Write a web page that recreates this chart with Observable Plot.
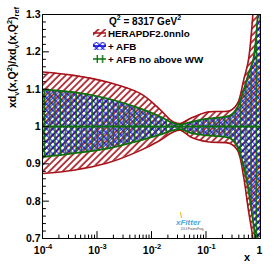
<!DOCTYPE html>
<html><head><meta charset="utf-8">
<script src="https://cdn.jsdelivr.net/npm/d3@7"></script>
<script src="https://cdn.jsdelivr.net/npm/@observablehq/plot@0.6"></script>
<style>html,body{margin:0;padding:0;background:#fff}svg{display:block}</style>
</head><body><div id="chart"></div>
<script>
// ---- data ----
const xValues   = [1e-4, 3.7e-4, 1.55e-3, 6.3e-3, 0.0129, 0.0251, 0.0339, 0.0525, 0.107, 0.282, 0.38, 0.49, 0.60, 0.74, 0.91, 1];
const heraUp    = [1.146, 1.137, 1.119, 1.088, 1.052, 1.012, 1.008, 1.022, 1.039, 1.043, 1.062, 1.124, 1.177, 1.32, 1.60, 1.80];
const heraLo    = [0.874, 0.883, 0.902, 0.936, 0.959, 0.985, 0.990, 0.972, 0.959, 0.954, 0.936, 0.865, 0.776, 0.69, 0.50, 0.40];
const afbUp     = [1.099, 1.092, 1.075, 1.048, 1.030, 1.009, 1.005, 1.012, 1.021, 1.030, 1.052, 1.097, 1.140, 1.18, 1.32, 1.50];
const afbLo     = [0.918, 0.928, 0.941, 0.963, 0.976, 0.990, 0.993, 0.983, 0.976, 0.968, 0.945, 0.892, 0.830, 0.74, 0.64, 0.55];
const afbNoWWUp = [1.099, 1.092, 1.075, 1.048, 1.030, 1.009, 1.005, 1.012, 1.021, 1.030, 1.052, 1.097, 1.140, 1.18, 1.32, 1.50];
const afbNoWWLo = [0.918, 0.928, 0.941, 0.963, 0.976, 0.990, 0.993, 0.983, 0.976, 0.968, 0.945, 0.892, 0.830, 0.74, 0.64, 0.55];
const centre    = [1.0];

const yMajor  = [0.7, 0.8, 0.9, 1.0, 1.1, 1.2, 1.3];
const yLabels = ["0.7", "0.8", "0.9", "1", "1.1", "1.2", "1.3"];
const yMinor  = [0.72,0.74,0.76,0.78,0.82,0.84,0.86,0.88,0.92,0.94,0.96,0.98,1.02,1.04,1.06,1.08,1.12,1.14,1.16,1.18,1.22,1.24,1.26,1.28];
const xMajor  = [1e-4, 1e-3, 1e-2, 1e-1, 1];
const xExps   = ["-4", "-3", "-2", "-1"];
const xMinor  = xMajor.slice(0, -1).flatMap(d => [2,3,4,5,6,7,8,9].map(k => k * d));

const legendNames = ["HERAPDF2.0nnlo", "+ AFB", "+ AFB no above WW"];

const RED = "#a8111a", BLUE = "#0000dd", GREEN = "#0b700b";
const rows = xValues.map((x, i) => ({x, hu: heraUp[i], hl: heraLo[i], au: afbUp[i], al: afbLo[i], gu: afbNoWWUp[i], gl: afbNoWWLo[i]}));
const curve = "catmull-rom";
const tickShape = {draw(ctx, l) { ctx.moveTo(0, 0); ctx.lineTo(0, -l); }};

const chart = Plot.plot({
  width: 274, height: 266,
  marginLeft: 42, marginRight: 14, marginTop: 14, marginBottom: 28,
  x: {type: "log", domain: [1e-4, 1], axis: null},
  y: {domain: [0.7, 1.3], axis: null},
  style: {fontFamily: "'Liberation Sans', Arial, Helvetica, sans-serif", fontWeight: "bold", background: "white", color: "black"},
  marks: [
    Plot.areaY(rows, {x: "x", y1: "hl", y2: "hu", fill: "url(#hatchRed)", curve, clip: true}),
    Plot.line(rows, {x: "x", y: "hu", stroke: RED, strokeWidth: 1.6, curve, clip: true}),
    Plot.line(rows, {x: "x", y: "hl", stroke: RED, strokeWidth: 1.6, curve, clip: true}),
    Plot.areaY(rows, {x: "x", y1: "al", y2: "au", fill: "url(#crossBlue)", curve, clip: true}),
    Plot.areaY(rows, {x: "x", y1: "gl", y2: "gu", fill: "url(#vertGreen)", curve, clip: true}),
    Plot.line(rows, {x: "x", y: "gu", stroke: GREEN, strokeWidth: 1.8, curve, clip: true}),
    Plot.line(rows, {x: "x", y: "gl", stroke: GREEN, strokeWidth: 1.8, curve, clip: true}),
    Plot.ruleY(centre, {stroke: GREEN, strokeWidth: 1.8}),
    Plot.frame({stroke: "black", strokeWidth: 1}),
    Plot.vectorY(yMajor, {frameAnchor: "left", length: 6, rotate: 90, anchor: "start", shape: tickShape, stroke: "black", strokeWidth: 1}),
    Plot.vectorY(yMinor, {frameAnchor: "left", length: 3, rotate: 90, anchor: "start", shape: tickShape, stroke: "black", strokeWidth: 1}),
    Plot.vectorX(xMajor, {frameAnchor: "bottom", length: 7, rotate: 0, anchor: "start", shape: tickShape, stroke: "black", strokeWidth: 1}),
    Plot.vectorX(xMinor, {frameAnchor: "bottom", length: 3.5, rotate: 0, anchor: "start", shape: tickShape, stroke: "black", strokeWidth: 1}),
    Plot.text(yMajor, {y: d => d, frameAnchor: "left", text: yLabels, textAnchor: "end", dx: -2, fontSize: 10.5}),
    Plot.text(xMajor.slice(0, 4), {x: d => d, frameAnchor: "bottom", text: () => "10", textAnchor: "end", lineAnchor: "bottom", dx: 3, dy: 15, fontSize: 10.5}),
    Plot.text(xMajor.slice(0, 4), {x: d => d, frameAnchor: "bottom", text: xExps, textAnchor: "start", lineAnchor: "bottom", dx: 3, dy: 10, fontSize: 7.5}),
    Plot.text([1], {x: d => d, frameAnchor: "bottom", text: () => "1", textAnchor: "middle", lineAnchor: "bottom", dx: -1, dy: 15, fontSize: 10.5})
  ]
});

document.getElementById("chart").appendChild(chart);
const svg = d3.select(chart);

// patterns
const defs = svg.insert("defs", ":first-child");
const pr = defs.append("pattern").attr("id", "hatchRed").attr("patternUnits", "userSpaceOnUse")
  .attr("width", 4.7).attr("height", 4.7).attr("patternTransform", "rotate(45)");
pr.append("line").attr("x1", 1).attr("y1", 0).attr("x2", 1).attr("y2", 4.7).attr("stroke", RED).attr("stroke-width", 1.6);
const pb = defs.append("pattern").attr("id", "crossBlue").attr("patternUnits", "userSpaceOnUse")
  .attr("width", 4.4).attr("height", 4.4).attr("patternTransform", "rotate(45)");
pb.append("line").attr("x1", 1).attr("y1", 0).attr("x2", 1).attr("y2", 4.4).attr("stroke", BLUE).attr("stroke-width", 0.95);
pb.append("line").attr("x1", 0).attr("y1", 1).attr("x2", 4.4).attr("y2", 1).attr("stroke", BLUE).attr("stroke-width", 0.95);
const pg = defs.append("pattern").attr("id", "vertGreen").attr("patternUnits", "userSpaceOnUse")
  .attr("width", 5.3).attr("height", 5.3);
pg.append("line").attr("x1", 2).attr("y1", 0).attr("x2", 2).attr("y2", 5.3).attr("stroke", GREEN).attr("stroke-width", 1.4);

const FONT = "'Liberation Sans', Arial, Helvetica, sans-serif";
function rich(parent, parts, size) {
  let off = 0;
  for (const [t, kind] of parts) {
    const target = kind === "sup" ? -0.42 * size : kind === "sub" ? 0.28 * size : 0;
    parent.append("tspan").attr("dy", target - off).attr("font-size", kind === "n" ? size : size * 0.7).text(t);
    off = target;
  }
}

// y-axis title
const yt = svg.append("text").attr("transform", "translate(16,7) rotate(-90)")
  .attr("text-anchor", "end").attr("font-family", FONT).attr("font-weight", "bold").attr("font-size", 10.5).attr("fill", "black");
rich(yt, [["xd","n"],["v","sub"],["(x,Q","n"],["2","sup"],[")/xd","n"],["v","sub"],["(x,Q","n"],["2","sup"],[")","n"],["ref","sub"]], 10.5);

// x-axis title
svg.append("text").attr("x", 247).attr("y", 261).attr("text-anchor", "middle")
  .attr("font-family", FONT).attr("font-weight", "bold").attr("font-size", 11).text("x");

// legend
const q = svg.append("text").attr("x", 109).attr("y", 24.5).attr("text-anchor", "start")
  .attr("font-family", FONT).attr("font-weight", "bold").attr("font-size", 10);
rich(q, [["Q","n"],["2","sup"],[" = 8317 GeV","n"],["2","sup"]], 10);

const sw = [["url(#hatchRed)", RED], ["url(#crossBlue)", BLUE], ["url(#vertGreen)", GREEN]];
legendNames.forEach((name, i) => {
  const yb = 37 + 13 * i;
  svg.append("rect").attr("x", 93).attr("y", yb - 8).attr("width", 13).attr("height", 8).attr("fill", sw[i][0]);
  svg.append("line").attr("x1", 93).attr("x2", 106).attr("y1", yb - 4).attr("y2", yb - 4).attr("stroke", sw[i][1]).attr("stroke-width", 1.5);
  svg.append("text").attr("x", 108).attr("y", yb).attr("text-anchor", "start")
    .attr("font-family", FONT).attr("font-weight", "bold").attr("font-size", 9.8).text(name);
});

// xFitter logo
svg.append("path").attr("d", "M180.5,212 L181.5,218").attr("stroke", "#f0c020").attr("stroke-width", 1.2);
svg.append("text").attr("x", 176).attr("y", 225).attr("text-anchor", "start").attr("font-family", FONT).attr("font-style", "italic")
  .attr("font-size", 8).attr("fill", "#4aa8e0").text("xFitter");
svg.append("text").attr("x", 181).attr("y", 230).attr("text-anchor", "start").attr("font-family", FONT)
  .attr("font-size", 2.8).attr("fill", "#777").text("2.0.0 FrozenFrog");
</script>
</body></html>
